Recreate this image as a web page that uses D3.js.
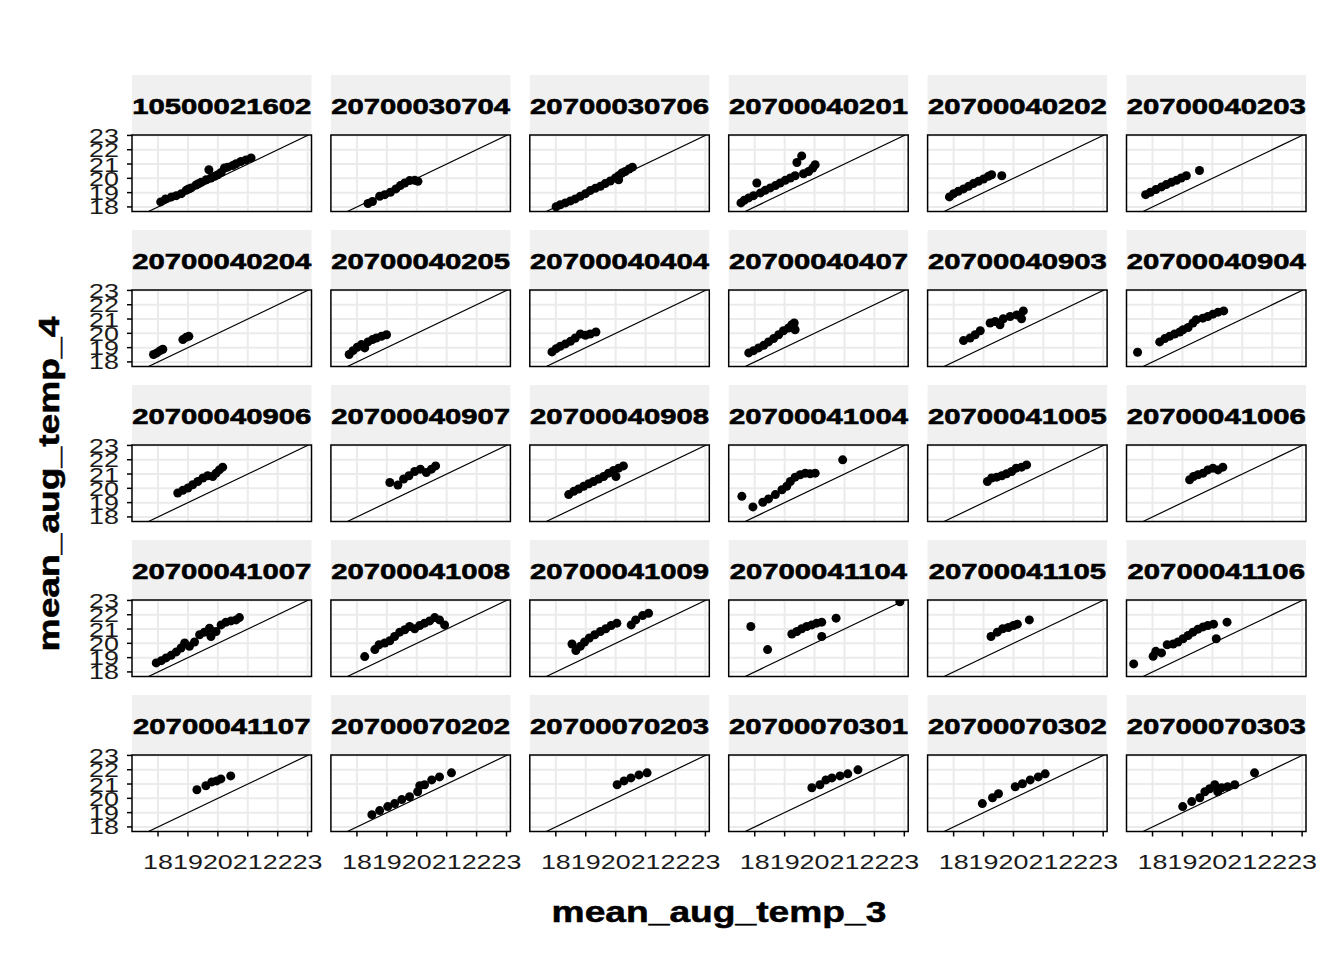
<!DOCTYPE html>
<html><head><meta charset="utf-8">
<script src="https://cdn.jsdelivr.net/npm/d3@7"></script>
<style>html,body{margin:0;padding:0;background:#fff;}svg{display:block;}</style>
</head><body>
<svg id="chart" width="1344" height="960"></svg>
<script>
const panelIds = ["10500021602","20700030704","20700030706","20700040201","20700040202","20700040203",
"20700040204","20700040205","20700040404","20700040407","20700040903","20700040904",
"20700040906","20700040907","20700040908","20700041004","20700041005","20700041006",
"20700041007","20700041008","20700041009","20700041104","20700041105","20700041106",
"20700041107","20700070202","20700070203","20700070301","20700070302","20700070303"];

const xTicks = [18,19,20,21,22,23];
const yTicks = [18,19,20,21,22,23];

// mean_aug_temp_3 per panel
const meanAugTemp3 = [
[18.09,18.25,18.45,18.61,18.78,18.94,19.02,19.11,19.27,19.35,19.44,19.61,19.70,19.77,19.89,20.00,20.11,20.22,20.33,20.50,20.61,20.77,20.94,21.11],
[18.37,18.52,18.76,18.93,19.12,19.30,19.45,19.60,19.76,19.93,20.04],
[18.01,18.15,18.32,18.49,18.65,18.82,18.99,19.15,19.32,19.49,19.65,19.82,19.99,20.10,20.21,20.32,20.45,20.56,20.10],
[17.54,17.65,17.80,17.96,18.07,18.19,18.35,18.52,18.69,18.85,19.02,19.19,19.35,19.41,19.57,19.63,19.80,19.94,20.02],
[17.86,18.00,18.16,18.33,18.50,18.66,18.83,19.00,19.16,19.27,19.61],
[17.77,17.93,18.11,18.30,18.46,18.63,18.80,18.96,19.13,19.57],
[17.85,17.96,18.07,18.16,18.83,18.94,19.03],
[17.74,17.87,18.01,18.15,18.26,18.37,18.52,18.65,18.82,18.99],
[17.87,18.01,18.15,18.32,18.49,18.65,18.82,18.99,19.15,19.34],
[17.80,17.96,18.13,18.30,18.46,18.63,18.80,18.96,19.13,19.24,19.32,19.35],
[18.33,18.55,18.72,18.89,19.22,19.39,19.55,19.66,19.89,20.11,20.33,20.27],
[17.50,18.24,18.41,18.57,18.74,18.91,19.02,19.19,19.35,19.46,19.68,19.85,20.02,20.19,20.38],
[18.66,18.83,19.00,19.16,19.33,19.50,19.66,19.83,19.94,20.05,20.16],
[19.10,19.37,19.56,19.74,19.93,20.12,20.32,20.49,20.63],
[18.43,18.60,18.76,18.93,19.10,19.26,19.43,19.60,19.76,19.93,20.01,20.10,20.26],
[17.57,17.94,18.27,18.46,18.69,18.91,19.07,19.19,19.35,19.52,19.69,19.85,20.02,20.94],
[19.13,19.27,19.44,19.61,19.77,19.94,20.09,20.27,20.44],
[19.24,19.37,19.52,19.69,19.85,20.02,20.19,20.35],
[17.94,18.11,18.27,18.44,18.61,18.77,18.89,19.05,19.22,19.39,19.55,19.72,19.77,19.94,20.11,20.27,20.44,20.61,20.72],
[18.26,18.60,18.74,18.93,19.10,19.26,19.43,19.60,19.76,19.93,20.10,20.26,20.43,20.60,20.76,20.93],
[18.54,18.67,18.82,18.96,19.12,19.30,19.49,19.67,19.85,20.04,20.52,20.67,20.90,21.10],
[17.87,18.43,19.24,19.41,19.57,19.74,19.91,20.07,20.24,20.24,20.72,22.85],
[19.25,19.46,19.64,19.83,20.00,20.13,20.53],
[17.37,18.02,18.11,18.30,18.49,18.69,18.85,19.02,19.19,19.35,19.52,19.69,19.85,20.04,20.13,20.49],
[19.30,19.60,19.80,19.96,20.10,20.43],
[18.50,18.76,19.03,19.26,19.50,19.76,20.03,20.10,20.26,20.50,20.76,21.16],
[20.05,20.28,20.51,20.78,21.05],
[19.91,20.18,20.38,20.58,20.85,21.11,21.45],
[18.96,19.30,19.50,20.06,20.30,20.56,20.83,21.06],
[19.01,19.31,19.58,19.75,19.91,20.08,20.18,20.31,20.51,20.75,21.41]
];

// mean_aug_temp_4 per panel
const meanAugTemp4 = [
[18.35,18.56,18.70,18.79,18.93,19.16,19.25,19.33,19.53,19.62,19.72,19.90,20.60,20.02,20.14,20.25,20.41,20.72,20.78,20.90,21.02,21.18,21.29,21.43],
[18.24,18.38,18.75,18.86,19.03,19.26,19.49,19.67,19.84,19.86,19.79],
[18.01,18.15,18.28,18.42,18.56,18.75,18.93,19.14,19.30,19.44,19.63,19.81,20.02,20.18,20.37,20.48,20.65,20.78,19.90],
[18.28,18.47,18.63,18.79,19.67,18.98,19.16,19.33,19.49,19.67,19.86,20.02,20.18,21.11,21.57,20.32,20.48,20.72,20.95],
[18.70,18.93,19.10,19.26,19.44,19.63,19.79,19.95,20.14,20.25,20.18],
[18.86,19.03,19.21,19.40,19.56,19.72,19.86,20.02,20.18,20.55],
[18.52,18.63,18.79,18.89,19.56,19.72,19.79],
[18.52,18.79,19.03,19.21,18.98,19.40,19.56,19.67,19.79,19.90],
[18.70,18.93,19.10,19.26,19.44,19.67,19.95,19.86,19.95,20.09],
[18.63,18.79,18.98,19.16,19.40,19.63,19.90,20.18,20.37,20.60,20.72,20.25],
[19.49,19.67,19.90,20.18,20.72,20.83,20.60,21.02,21.18,21.29,21.57,21.02],
[18.68,19.40,19.63,19.79,19.95,20.09,20.25,20.41,20.72,20.95,21.06,21.18,21.34,21.48,21.57],
[19.67,19.86,20.02,20.25,20.48,20.72,20.88,20.83,21.06,21.29,21.48],
[20.41,20.23,20.65,20.88,21.18,21.34,21.11,21.34,21.57],
[19.56,19.79,19.95,20.14,20.32,20.48,20.65,20.83,21.06,21.25,20.83,21.41,21.57],
[19.44,18.70,19.03,19.26,19.56,19.90,20.14,20.48,20.78,20.95,21.06,21.02,21.06,21.99],
[20.48,20.72,20.78,20.88,21.02,21.18,21.41,21.48,21.64],
[20.60,20.83,20.95,21.06,21.29,21.41,21.29,21.48],
[18.63,18.79,18.98,19.16,19.40,19.67,20.02,19.79,20.09,20.60,20.78,21.06,20.48,20.83,21.29,21.48,21.57,21.64,21.80],
[19.07,19.56,19.90,20.02,20.18,20.48,20.78,20.95,21.18,21.02,21.25,21.41,21.57,21.80,21.64,21.29],
[19.95,19.49,19.79,20.09,20.37,20.60,20.83,21.02,21.25,21.41,21.29,21.64,21.94,22.10],
[21.18,19.56,20.65,20.83,21.02,21.18,21.29,21.41,21.48,20.48,21.76,22.91],
[20.48,20.78,21.02,21.11,21.25,21.34,21.64],
[18.56,19.10,19.44,19.33,19.90,19.95,20.09,20.32,20.55,20.78,20.99,21.15,21.25,21.34,20.32,21.48],
[20.60,20.88,21.15,21.22,21.36,21.57],
[18.86,19.14,19.42,19.63,19.91,20.11,20.46,20.88,20.95,21.29,21.50,21.78],
[20.95,21.22,21.43,21.64,21.78],
[20.74,20.95,21.29,21.43,21.57,21.71,21.99],
[19.63,20.04,20.32,20.81,21.02,21.29,21.50,21.71],
[19.42,19.77,20.04,20.46,20.67,20.95,20.46,20.74,20.81,20.95,21.78]
];

const xTitle = "mean_aug_temp_3";
const yTitle = "mean_aug_temp_4";

// ---- layout ----
const FONT = "'Liberation Sans', Arial, sans-serif";
const nCols = 6, nRows = 5;
const colLeft0 = 132, colStep = 198.9, panelW = 179.5;
const rowTop0 = 135, rowStep = 155, panelH = 76.5, stripH = 60;

const svg = d3.select("#chart");
svg.append("rect").attr("width",1344).attr("height",960).attr("fill","#fff");

const x = d3.scaleLinear().domain([17.13, 23.13]).range([0, panelW]);
const y = d3.scaleLinear().domain([17.68, 23.03]).range([panelH, 0]);

// the original rendering has horizontally widened glyphs; sx reproduces that
function stext(g, tx, ty, str, o) {
  const t = g.append("text")
    .attr("transform", `translate(${tx},${ty})` + (o.rotate ? ` rotate(${o.rotate})` : "") + ` scale(${o.sx},1)`)
    .attr("text-anchor", o.anchor || "middle")
    .attr("font-family", FONT)
    .attr("font-size", o.size)
    .attr("font-weight", o.weight || "normal")
    .attr("fill", o.fill || "#000")
    .text(str);
  if (o.heavy) t.attr("stroke", o.fill || "#000").attr("stroke-width", o.heavy);
  return t;
}

const defs = svg.append("defs");
const dLo = Math.max(x.domain()[0], y.domain()[0]);
const dHi = Math.min(x.domain()[1], y.domain()[1]);

panelIds.forEach((id, i) => {
  const c = i % nCols, r = Math.floor(i / nCols);
  const L = colLeft0 + c * colStep, T = rowTop0 + r * rowStep;
  const g = svg.append("g").attr("transform", `translate(${L},${T})`);

  // strip
  g.append("rect").attr("x", 0).attr("y", -stripH).attr("width", panelW).attr("height", stripH).attr("fill", "#f0f0f0");
  stext(g, panelW / 2, -21.5, id, {size: 22, sx: 1.33, weight: "bold", fill: "#000", heavy: 0.6});

  // panel
  g.append("rect").attr("width", panelW).attr("height", panelH).attr("fill", "#fff");
  const cid = "clip" + i;
  defs.append("clipPath").attr("id", cid).append("rect").attr("width", panelW).attr("height", panelH);
  const pg = g.append("g").attr("clip-path", `url(#${cid})`);

  pg.selectAll(".gx").data(xTicks).join("line")
    .attr("x1", d => x(d)).attr("x2", d => x(d)).attr("y1", 0).attr("y2", panelH)
    .attr("stroke", "#ebebeb").attr("stroke-width", 2);
  pg.selectAll(".gy").data(yTicks).join("line")
    .attr("y1", d => y(d)).attr("y2", d => y(d)).attr("x1", 0).attr("x2", panelW)
    .attr("stroke", "#ebebeb").attr("stroke-width", 2);

  const pts = meanAugTemp3[i].map((v, k) => [v, meanAugTemp4[i][k]]);
  pg.selectAll("circle").data(pts).join("circle")
    .attr("cx", d => x(d[0])).attr("cy", d => y(d[1])).attr("r", 4.5).attr("fill", "#000");

  pg.append("line").attr("x1", x(dLo)).attr("y1", y(dLo)).attr("x2", x(dHi)).attr("y2", y(dHi))
    .attr("stroke", "#000").attr("stroke-width", 1.2);

  g.append("rect").attr("width", panelW).attr("height", panelH)
    .attr("fill", "none").attr("stroke", "#000").attr("stroke-width", 1.5);

  if (c === 0) {
    yTicks.forEach(t => {
      g.append("line").attr("x1", -5).attr("x2", 0).attr("y1", y(t)).attr("y2", y(t))
        .attr("stroke", "#000").attr("stroke-width", 1.5);
      stext(g, -13, y(t) + 7.5, String(t), {size: 21, sx: 1.28, anchor: "end", fill: "#1a1a1a"});
    });
  }
  if (r === nRows - 1) {
    xTicks.forEach(t => {
      g.append("line").attr("x1", x(t)).attr("x2", x(t)).attr("y1", panelH).attr("y2", panelH + 5)
        .attr("stroke", "#000").attr("stroke-width", 1.5);
      stext(g, x(t), panelH + 37, String(t), {size: 21, sx: 1.28, fill: "#1a1a1a"});
    });
  }
});

stext(svg, 719, 922, xTitle, {size: 30, sx: 1.24, weight: "bold", heavy: 0.5});
stext(svg, 59, 484, yTitle, {size: 30, sx: 1.24, weight: "bold", rotate: -90, heavy: 0.5});
</script>
</body></html>
